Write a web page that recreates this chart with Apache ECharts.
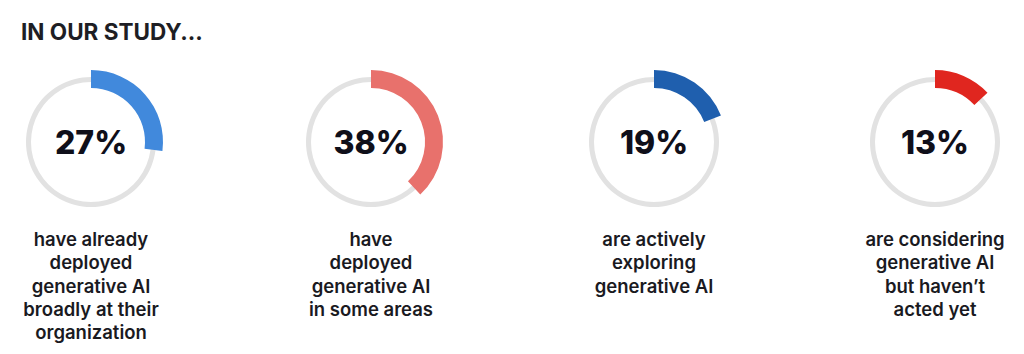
<!DOCTYPE html>
<html>
<head>
<meta charset="utf-8">
<script src="https://cdn.jsdelivr.net/npm/echarts@6/dist/echarts.min.js"></script>
<style>
  html, body { margin: 0; padding: 0; background: #ffffff; }
  #chart { width: 1024px; height: 354px; }
</style>
</head>
<body>
<div id="chart"></div>
<script>
// study results
var shares = [27, 38, 19, 13]
var arcColors = ['#4189dc', '#e8716c', '#1f5fae', '#e0261f']
var captions = [
  'have already\ndeployed\ngenerative AI\nbroadly at their\norganization',
  'have\ndeployed\ngenerative AI\nin some areas',
  'are actively\nexploring\ngenerative AI',
  'are considering\ngenerative AI\nbut haven\u2019t\nacted yet'
]
var centersX = [91, 371, 654, 935]
var centerY = 142

var chart = echarts.init(document.getElementById('chart'), null, { renderer: 'svg' })

var series = []
var titles = [{
  text: 'IN OUR STUDY...',
  left: 21,
  top: 20,
  padding: 0,
  textStyle: {
    fontFamily: 'Inter',
    fontWeight: 700,
    fontSize: 22.5,
    color: '#1e1e24'
  }
}]

shares.forEach(function (v, i) {
  // thin grey track
  series.push({
    type: 'pie',
    silent: true,
    center: [centersX[i], centerY],
    radius: [60, 65],
    label: { show: false },
    labelLine: { show: false },
    itemStyle: { color: '#e2e2e2', borderWidth: 0 },
    data: [100]
  })
  // coloured share arc, starts at 12 o'clock
  series.push({
    type: 'pie',
    silent: true,
    startAngle: 90,
    clockwise: true,
    center: [centersX[i], centerY],
    radius: [54, 72],
    labelLine: { show: false },
    itemStyle: { borderWidth: 0 },
    data: [
      {
        value: v,
        itemStyle: { color: arcColors[i] },
        label: {
          show: true,
          position: 'center',
          formatter: '{c}%',
          fontFamily: 'Inter',
          fontWeight: 800,
          fontSize: 32,
          color: '#0f0f1a'
        }
      },
      {
        value: 100 - v,
        itemStyle: { color: 'rgba(0,0,0,0)' },
        label: { show: false }
      }
    ]
  })
  titles.push({
    text: captions[i],
    left: centersX[i],
    top: 227,
    textAlign: 'center',
    padding: 0,
    textStyle: {
      fontFamily: 'Inter',
      fontWeight: 600,
      fontSize: 18.5,
      lineHeight: 23.4,
      color: '#1a1a1f',
      align: 'center'
    }
  })
})

chart.setOption({
  backgroundColor: '#ffffff',
  animation: false,
  title: titles,
  series: series
})
</script>
</body>
</html>
